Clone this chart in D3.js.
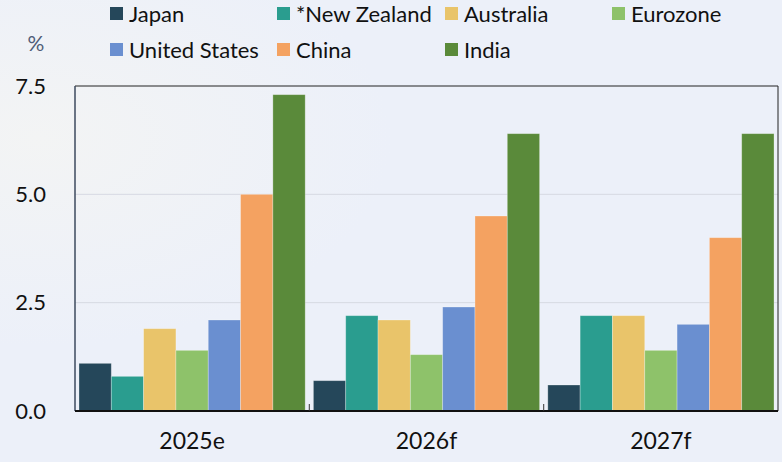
<!DOCTYPE html>
<html>
<head>
<meta charset="utf-8">
<script src="https://cdn.jsdelivr.net/npm/d3@7"></script>
<style>
  body { margin: 0; background: #ecf0f9; }
  svg { display: block; font-family: "Lato", "Noto Sans", sans-serif; }
</style>
</head>
<body>
<svg width="782" height="462"></svg>
<script>
var years = ["2025e", "2026f", "2027f"];
var countries = ["Japan", "*New Zealand", "Australia", "Eurozone", "United States", "China", "India"];
var colours = ["#25475a", "#2a9d8f", "#e9c46a", "#8ec26a", "#6a8fd0", "#f4a261", "#5a8a3a"];

var japan = [1.1, 0.7, 0.6];
var newZealand = [0.8, 2.2, 2.2];
var australia = [1.9, 2.1, 2.2];
var eurozone = [1.4, 1.3, 1.4];
var unitedStates = [2.1, 2.4, 2.0];
var china = [5.0, 4.5, 4.0];
var india = [7.3, 6.4, 6.4];

var yTicks = [0, 2.5, 5.0, 7.5];

var series = [japan, newZealand, australia, eurozone, unitedStates, china, india];

var svg = d3.select("svg"),
    width = +svg.attr("width"),
    height = +svg.attr("height");

// soft backdrop on the left
var defs = svg.append("defs");
var grad = defs.append("radialGradient").attr("id", "glow")
    .attr("cx", "0.05").attr("cy", "0.3").attr("r", "0.45");
grad.append("stop").attr("offset", "0%").attr("stop-color", "#f3f4f4");
grad.append("stop").attr("offset", "100%").attr("stop-color", "#ecf0f9");
svg.append("rect").attr("width", width).attr("height", height).attr("fill", "url(#glow)");

var margin = {left: 75, right: 4, top: 86, bottom: 51};

var x0 = d3.scaleBand()
    .domain(years)
    .range([margin.left, width - margin.right])
    .paddingInner(0.035)
    .paddingOuter(0.017);

var x1 = d3.scaleBand()
    .domain(countries)
    .range([0, x0.bandwidth()]);

var y = d3.scaleLinear()
    .domain([0, 7.5])
    .range([height - margin.bottom, margin.top]);

// GRID

svg.append("g")
  .selectAll("line")
  .data(yTicks.slice(1, -1))
  .enter().append("line")
    .attr("x1", margin.left)
    .attr("x2", width - margin.right)
    .attr("y1", function(d) { return y(d); })
    .attr("y2", function(d) { return y(d); })
    .attr("stroke", "#d6d9e2")
    .attr("stroke-width", 1);

// BARS

var rows = years.map(function(yr, i) {
  return countries.map(function(c, j) { return {year: yr, country: c, value: series[j][i], k: j}; });
});

svg.append("g")
  .selectAll("g")
  .data(rows)
  .enter().append("g")
    .attr("transform", function(d, i) { return "translate(" + x0(years[i]) + ",0)"; })
  .selectAll("rect")
  .data(function(d) { return d; })
  .enter().append("rect")
    .attr("x", function(d) { return x1(d.country); })
    .attr("width", x1.bandwidth())
    .attr("y", function(d) { return y(d.value); })
    .attr("height", function(d) { return y(0) - y(d.value); })
    .attr("fill", function(d) { return colours[d.k]; })
    .attr("stroke", "rgba(255,255,255,0.35)")
    .attr("stroke-width", 0.8);

// FRAME

svg.append("line")
    .attr("x1", margin.left).attr("x2", width - margin.right)
    .attr("y1", margin.top).attr("y2", margin.top)
    .attr("stroke", "#222").attr("stroke-width", 1);
svg.append("line")
    .attr("x1", width - margin.right).attr("x2", width - margin.right)
    .attr("y1", margin.top).attr("y2", y(0))
    .attr("stroke", "#222").attr("stroke-width", 1);
svg.append("line")
    .attr("x1", margin.left).attr("x2", margin.left)
    .attr("y1", margin.top).attr("y2", y(0))
    .attr("stroke", "#3d4a5e").attr("stroke-width", 1.5);

// AXES

var yAxis = svg.append("g")
    .attr("transform", "translate(" + (margin.left - 26) + ",0)")
    .call(d3.axisLeft(y).tickValues(yTicks).tickFormat(d3.format(".1f")).tickSize(0));
yAxis.select(".domain").remove();
yAxis.selectAll("text").attr("font-size", 22).attr("font-family", "Lato").attr("fill", "#111").attr("dy", "0.32em");

svg.append("line")
    .attr("x1", margin.left).attr("x2", width - margin.right)
    .attr("y1", y(0)).attr("y2", y(0))
    .attr("stroke", "#111").attr("stroke-width", 2);

// group dividers
var step = x0.step();
svg.append("g")
  .selectAll("line")
  .data(years.slice(1))
  .enter().append("line")
    .attr("x1", function(d) { return x0(d) - step * x0.paddingInner() / 2; })
    .attr("x2", function(d) { return x0(d) - step * x0.paddingInner() / 2; })
    .attr("y1", y(0) - 7).attr("y2", y(0))
    .attr("stroke", "#333").attr("stroke-width", 1);

svg.append("g")
  .selectAll("text")
  .data(years)
  .enter().append("text")
    .attr("x", function(d) { return x0(d) + x0.bandwidth() / 2; })
    .attr("y", 449)
    .attr("text-anchor", "middle")
    .attr("font-size", 23)
    .attr("fill", "#111")
    .text(function(d) { return d; });

svg.append("text")
    .attr("x", 36).attr("y", 51)
    .attr("text-anchor", "middle")
    .attr("font-size", 21)
    .attr("fill", "#4f5d78")
    .text("%");

// LEGEND

var legendX = [110, 277, 445, 612, 110, 277, 445];
var legendY = [14, 14, 14, 14, 50, 50, 50];

var legend = svg.append("g")
  .selectAll("g")
  .data(countries)
  .enter().append("g")
    .attr("transform", function(d, i) { return "translate(" + legendX[i] + "," + legendY[i] + ")"; });

legend.append("rect")
    .attr("x", 0).attr("y", -7)
    .attr("width", 13).attr("height", 13)
    .attr("fill", function(d, i) { return colours[i]; });

legend.append("text")
    .attr("x", 19).attr("y", 0)
    .attr("dy", "0.35em")
    .attr("font-size", 22)
    .attr("fill", "#111")
    .text(function(d) { return d; });
</script>
</body>
</html>
